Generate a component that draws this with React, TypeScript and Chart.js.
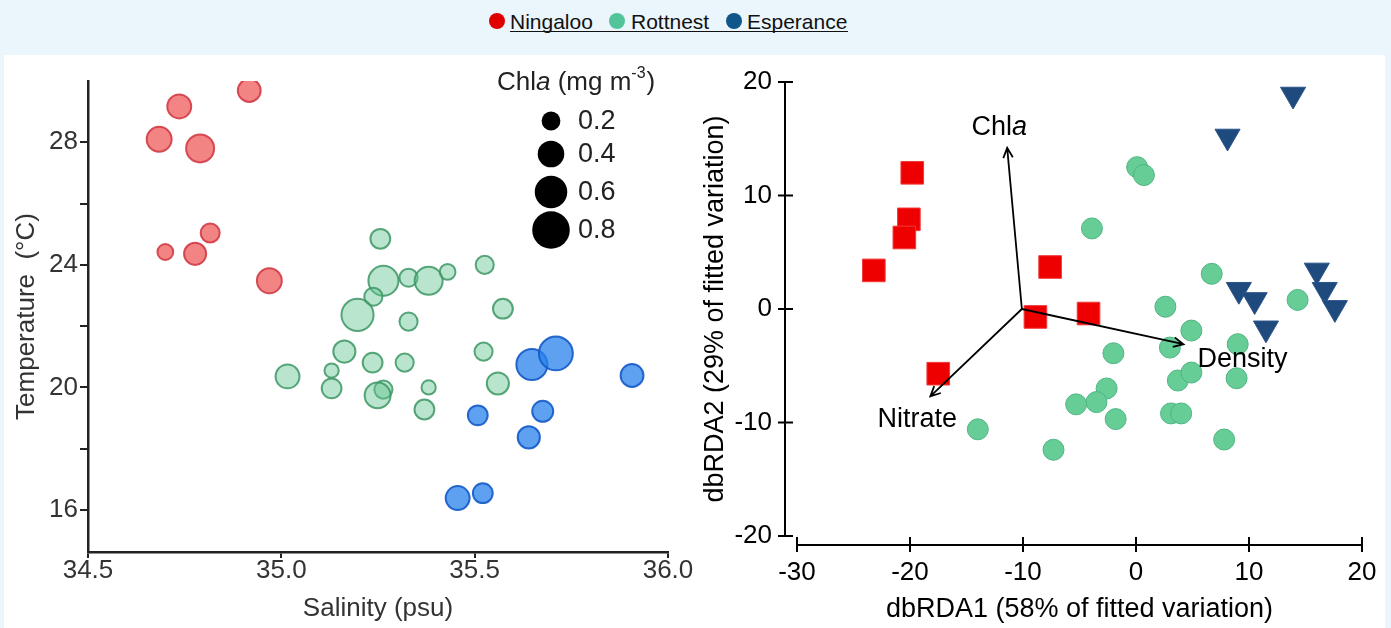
import React, { useEffect, useRef } from "react";
import { Chart, registerables } from "chart.js";

Chart.register(...registerables);

const FONT = '"Liberation Sans", Arial, Helvetica, sans-serif';

// ---------- Left panel: Temperature vs Salinity, bubble size = Chla ----------
const ningalooSalinity = [34.917, 34.736, 34.684, 34.79, 34.816, 34.7, 34.777, 34.969];
const ningalooTemp = [29.69, 29.17, 28.1, 27.8, 25.04, 24.42, 24.36, 23.48];
const ningalooChla = [0.35, 0.38, 0.41, 0.51, 0.25, 0.18, 0.33, 0.41];

const rottnestSalinity = [35.256, 35.264, 35.329, 35.381, 35.43, 35.526, 35.238, 35.197, 35.329, 35.573, 35.016, 35.13, 35.13, 35.163, 35.236, 35.319, 35.523, 35.264, 35.249, 35.381, 35.37, 35.56];
const rottnestTemp = [24.85, 23.48, 23.58, 23.48, 23.77, 24.0, 22.96, 22.37, 22.15, 22.57, 20.36, 20.55, 19.97, 21.17, 20.81, 20.81, 21.17, 19.93, 19.74, 20.0, 19.28, 20.13];
const rottnestChla = [0.27, 0.58, 0.23, 0.51, 0.18, 0.23, 0.23, 0.66, 0.23, 0.27, 0.38, 0.15, 0.27, 0.33, 0.27, 0.23, 0.23, 0.23, 0.44, 0.15, 0.27, 0.33];

const esperanceSalinity = [35.648, 35.71, 35.907, 35.508, 35.676, 35.64, 35.456, 35.521];
const esperanceTemp = [20.75, 21.11, 20.39, 19.09, 19.22, 18.37, 16.39, 16.55];
const esperanceChla = [0.62, 0.73, 0.35, 0.27, 0.3, 0.33, 0.38, 0.27];

const salinityTicks = [34.5, 35.0, 35.5, 36.0];
const tempTicks = [16, 18, 20, 22, 24, 26, 28];
const tempLabelled = [16, 20, 24, 28];
const chlaLegendValues = [0.2, 0.4, 0.6, 0.8];

// ---------- Right panel: dbRDA ordination ----------
const ningalooRda1 = [-19.8, -20.1, -20.5, -23.2, -7.6, -8.9, -4.2, -17.5];
const ningalooRda2 = [12.0, 7.9, 6.3, 3.4, 3.7, -0.7, -0.4, -5.7];

const rottnestRda1 = [0.1, 0.7, -3.9, 6.7, 2.6, 4.9, 9.0, 14.3, -2.0, 3.0, 3.7, 4.9, 8.9, -2.6, -3.5, -5.3, -1.8, 3.1, 4.0, 7.8, -7.3, -14.0];
const rottnestRda2 = [12.5, 11.8, 7.1, 3.1, 0.2, -1.9, -3.1, 0.8, -3.9, -3.4, -6.3, -5.6, -6.1, -7.0, -8.2, -8.4, -9.7, -9.2, -9.2, -11.5, -12.4, -10.6];

const esperanceRda1 = [13.9, 8.1, 16.0, 9.1, 10.5, 16.7, 17.6, 11.5];
const esperanceRda2 = [18.9, 15.2, 3.4, 1.7, 0.8, 1.7, 0.1, -1.7];

const rda1Ticks = [-30, -20, -10, 0, 10, 20];
const rda2Ticks = [-20, -10, 0, 10, 20];

const vectorNames = ["Chla", "Nitrate", "Density"];
const vectorOrigin = [-10.1, 0];
const vectorTipRda1 = [-11.4, -18.2, 4.2];
const vectorTipRda2 = [14.2, -7.7, -3.1];

const siteNames = ["Ningaloo", "Rottnest", "Esperance"];
const siteColors = ["#e00000", "#52c49a", "#10568a"];

const rOf = (c: number) => 21 * Math.sqrt(c);

function fixedWidth(w: number) {
  return (s: any) => {
    s.width = w;
    s.paddingLeft = 0; s.paddingRight = 0; s.paddingTop = 0; s.paddingBottom = 0;
  };
}
function fixedHeight(h: number) {
  return (s: any) => {
    s.height = h;
    s.paddingLeft = 0; s.paddingRight = 0; s.paddingTop = 0; s.paddingBottom = 0;
  };
}

const bubbleLegendPlugin = {
  id: "bubbleLegend",
  afterDraw(chart: any) {
    const ctx = chart.ctx;
    ctx.save();
    ctx.fillStyle = "#222";
    ctx.textBaseline = "middle";
    ctx.textAlign = "left";
    let x = 497;
    const ty = 28;
    const normal = `26px ${FONT}`;
    const italic = `italic 26px ${FONT}`;
    const parts: [string, string, number][] = [
      ["Chl", normal, 0], ["a", italic, 0], [" (mg m", normal, 0], ["-3", `16px ${FONT}`, -9], [")", normal, 0],
    ];
    for (const [t, f, dy] of parts) {
      ctx.font = f;
      ctx.fillText(t, x, ty + dy);
      x += ctx.measureText(t).width + (t === "-3" ? 1 : 0);
    }
    const ys = [66, 99, 137, 175];
    chlaLegendValues.forEach((v, i) => {
      ctx.beginPath();
      ctx.fillStyle = "#000";
      ctx.arc(551, ys[i], rOf(v), 0, Math.PI * 2);
      ctx.fill();
      ctx.fillStyle = "#222";
      ctx.font = `27px ${FONT}`;
      ctx.fillText(v.toFixed(1), 578, ys[i] + 1);
    });
    ctx.restore();
  },
};

const rdaAxesPlugin = {
  id: "rdaAxes",
  afterDraw(chart: any) {
    const { ctx, chartArea: ca } = chart;
    const xs = chart.scales.x;
    const ys = chart.scales.y;
    ctx.save();
    ctx.strokeStyle = "#000";
    ctx.lineWidth = 2;
    const axX = ca.left - 12;
    ctx.beginPath();
    ctx.moveTo(axX, ys.getPixelForValue(rda2Ticks[rda2Ticks.length - 1]));
    ctx.lineTo(axX, ys.getPixelForValue(rda2Ticks[0]));
    rda2Ticks.forEach((v) => {
      const p = ys.getPixelForValue(v);
      ctx.moveTo(axX - 7, p);
      ctx.lineTo(axX + 8, p);
    });
    const axY = ca.bottom + 9;
    ctx.moveTo(xs.getPixelForValue(rda1Ticks[0]), axY);
    ctx.lineTo(xs.getPixelForValue(rda1Ticks[rda1Ticks.length - 1]), axY);
    rda1Ticks.forEach((v) => {
      const p = xs.getPixelForValue(v);
      ctx.moveTo(p, axY - 8);
      ctx.lineTo(p, axY + 7);
    });
    ctx.stroke();
    ctx.restore();
  },
};

const vectorPlugin = {
  id: "vectors",
  afterDatasetsDraw(chart: any) {
    const { ctx } = chart;
    const xs = chart.scales.x;
    const ys = chart.scales.y;
    const ox = xs.getPixelForValue(vectorOrigin[0]);
    const oy = ys.getPixelForValue(vectorOrigin[1]);
    ctx.save();
    ctx.strokeStyle = "#000";
    ctx.fillStyle = "#000";
    ctx.lineWidth = 1.8;
    vectorNames.forEach((name, i) => {
      const tx = xs.getPixelForValue(vectorTipRda1[i]);
      const ty = ys.getPixelForValue(vectorTipRda2[i]);
      const ang = Math.atan2(ty - oy, tx - ox);
      const hl = 11;
      const spread = 0.45;
      ctx.beginPath();
      ctx.moveTo(ox, oy);
      ctx.lineTo(tx, ty);
      ctx.moveTo(tx - hl * Math.cos(ang - spread), ty - hl * Math.sin(ang - spread));
      ctx.lineTo(tx, ty);
      ctx.lineTo(tx - hl * Math.cos(ang + spread), ty - hl * Math.sin(ang + spread));
      ctx.stroke();

      ctx.textBaseline = "middle";
      const normal = `27px ${FONT}`;
      const italic = `italic 27px ${FONT}`;
      if (name === "Chla") {
        ctx.font = normal;
        const w1 = ctx.measureText("Chl").width;
        ctx.font = italic;
        const w2 = ctx.measureText("a").width;
        const sx = tx - 8 - (w1 + w2) / 2;
        ctx.textAlign = "left";
        ctx.font = normal;
        ctx.fillText("Chl", sx, ty - 20);
        ctx.font = italic;
        ctx.fillText("a", sx + w1, ty - 20);
      } else if (name === "Nitrate") {
        ctx.font = normal;
        ctx.textAlign = "center";
        ctx.fillText(name, tx - 13, ty + 23);
      } else {
        ctx.font = normal;
        ctx.textAlign = "left";
        ctx.fillText(name, tx + 14, ty + 15);
      }
    });
    ctx.restore();
  },
};

export default function App() {
  const leftRef = useRef<HTMLCanvasElement | null>(null);
  const rightRef = useRef<HTMLCanvasElement | null>(null);

  useEffect(() => {
    const bub = (xs: number[], ys: number[], cs: number[]) =>
      xs.map((x, i) => ({ x, y: ys[i], r: rOf(cs[i]) - 1 }));

    const left = new Chart(leftRef.current as HTMLCanvasElement, {
      type: "bubble",
      data: {
        datasets: [
          {
            label: "Ningaloo",
            data: bub(ningalooSalinity, ningalooTemp, ningalooChla),
            backgroundColor: "rgba(235,50,50,0.6)",
            borderColor: "rgba(210,60,70,0.9)",
            borderWidth: 2,
          },
          {
            label: "Rottnest",
            data: bub(rottnestSalinity, rottnestTemp, rottnestChla),
            backgroundColor: "rgba(100,195,145,0.45)",
            borderColor: "rgba(60,150,100,0.85)",
            borderWidth: 2,
          },
          {
            label: "Esperance",
            data: bub(esperanceSalinity, esperanceTemp, esperanceChla),
            backgroundColor: "rgba(40,130,235,0.75)",
            borderColor: "rgba(20,90,200,0.9)",
            borderWidth: 2,
          },
        ],
      },
      options: {
        animation: false,
        responsive: false,
        maintainAspectRatio: false,
        layout: { padding: { left: 0, top: 26, right: 42, bottom: 0 } },
        plugins: { legend: { display: false }, tooltip: { enabled: false } },
        scales: {
          x: {
            type: "linear",
            min: 34.5,
            max: 36.0,
            afterBuildTicks: (s: any) => { s.ticks = salinityTicks.map((v) => ({ value: v })); },
            afterFit: fixedHeight(76),
            border: { display: true, color: "#222", width: 2.5 },
            grid: { display: true, drawOnChartArea: false, drawTicks: true, tickLength: 6, color: "#222", lineWidth: 2 },
            ticks: {
              padding: 0,
              color: "#333",
              font: { family: FONT, size: 26, lineHeight: 1 },
              callback: (v: any) => Number(v).toFixed(1),
              maxRotation: 0,
              autoSkip: false,
            },
            title: {
              display: true,
              text: "Salinity (psu)",
              color: "#333",
              font: { family: FONT, size: 26, lineHeight: 1.2 },
              padding: { top: 0, bottom: 4 },
            },
          },
          y: {
            type: "linear",
            min: 14.63,
            max: 30,
            afterBuildTicks: (s: any) => { s.ticks = tempTicks.map((v) => ({ value: v })); },
            afterFit: fixedWidth(88),
            border: { display: true, color: "#222", width: 2.5 },
            grid: { display: true, drawOnChartArea: false, drawTicks: true, tickLength: 8, color: "#222", lineWidth: 2 },
            ticks: {
              padding: 2,
              color: "#333",
              font: { family: FONT, size: 26, lineHeight: 1 },
              callback: (v: any) => (tempLabelled.includes(Number(v)) ? String(v) : ""),
              autoSkip: false,
            },
            title: {
              display: true,
              text: "Temperature  (°C)",
              color: "#333",
              font: { family: FONT, size: 26, lineHeight: 1.2 },
              padding: { top: 11, bottom: 0 },
            },
          },
        },
      },
      plugins: [bubbleLegendPlugin],
    } as any);

    const pts = (xs: number[], ys: number[]) => xs.map((x, i) => ({ x, y: ys[i] }));

    const right = new Chart(rightRef.current as HTMLCanvasElement, {
      type: "scatter",
      data: {
        datasets: [
          {
            label: "Ningaloo",
            data: pts(ningalooRda1, ningalooRda2),
            pointStyle: "rect",
            pointRadius: 16,
            backgroundColor: "#ee0000",
            borderColor: "#f23a3a",
            borderWidth: 1,
            clip: false,
          },
          {
            label: "Rottnest",
            data: pts(rottnestRda1, rottnestRda2),
            pointStyle: "circle",
            pointRadius: 10.5,
            backgroundColor: "#66cd96",
            borderColor: "#4fb583",
            borderWidth: 1,
            clip: false,
          },
          {
            label: "Esperance",
            data: pts(esperanceRda1, esperanceRda2),
            pointStyle: "triangle",
            pointRotation: 180,
            pointRadius: 14.5,
            backgroundColor: "#1f4a7e",
            borderColor: "#2a5588",
            borderWidth: 1,
            clip: false,
          },
        ],
      },
      options: {
        animation: false,
        responsive: false,
        maintainAspectRatio: false,
        layout: { padding: { left: 0, top: 27, right: 29, bottom: 0 } },
        plugins: { legend: { display: false }, tooltip: { enabled: false } },
        scales: {
          x: {
            type: "linear",
            min: -30,
            max: 20,
            afterBuildTicks: (s: any) => { s.ticks = rda1Ticks.map((v) => ({ value: v })); },
            afterFit: fixedHeight(92),
            border: { display: false },
            grid: { display: false, drawTicks: false },
            ticks: {
              padding: 24,
              color: "#000",
              font: { family: FONT, size: 26, lineHeight: 1 },
              maxRotation: 0,
              autoSkip: false,
            },
            title: {
              display: true,
              text: "dbRDA1 (58% of fitted variation)",
              color: "#000",
              font: { family: FONT, size: 27, lineHeight: 1.2 },
              padding: { top: 0, bottom: 2 },
            },
          },
          y: {
            type: "linear",
            min: -20,
            max: 20,
            afterBuildTicks: (s: any) => { s.ticks = rda2Ticks.map((v) => ({ value: v })); },
            afterFit: fixedWidth(107),
            border: { display: false },
            grid: { display: false, drawTicks: false },
            ticks: {
              padding: 25,
              color: "#000",
              font: { family: FONT, size: 26, lineHeight: 1 },
              autoSkip: false,
            },
            title: {
              display: true,
              text: "dbRDA2 (29% of fitted variation)",
              color: "#000",
              font: { family: FONT, size: 27, lineHeight: 1.2 },
              padding: { top: 9, bottom: 0 },
            },
          },
        },
      },
      plugins: [rdaAxesPlugin, vectorPlugin],
    } as any);

    return () => {
      left.destroy();
      right.destroy();
    };
  }, []);

  const dotX = [497, 617, 734];
  const textX = [510, 631, 747];

  return (
    <div
      style={{
        position: "absolute",
        left: 0,
        top: 0,
        width: 1391,
        height: 628,
        background: "#eaf5fc",
        overflow: "hidden",
        fontFamily: FONT,
      }}
    >
      {siteNames.map((n, i) => (
        <React.Fragment key={n}>
          <div
            style={{
              position: "absolute",
              left: dotX[i] - 8,
              top: 13,
              width: 16,
              height: 16,
              borderRadius: "50%",
              background: siteColors[i],
            }}
          />
          <div
            style={{
              position: "absolute",
              left: textX[i],
              top: 10,
              fontSize: 21,
              lineHeight: "24px",
              color: "#111",
              whiteSpace: "nowrap",
            }}
          >
            {n}
          </div>
        </React.Fragment>
      ))}
      <div style={{ position: "absolute", left: 510, top: 31, width: 338, height: 1, background: "#111" }} />
      <div style={{ position: "absolute", left: 4, top: 55, width: 1381, height: 573, background: "#ffffff" }} />
      <canvas
        ref={leftRef}
        width={710}
        height={573}
        style={{ position: "absolute", left: 0, top: 55, width: 710, height: 573 }}
      />
      <canvas
        ref={rightRef}
        width={701}
        height={573}
        style={{ position: "absolute", left: 690, top: 55, width: 701, height: 573 }}
      />
    </div>
  );
}
